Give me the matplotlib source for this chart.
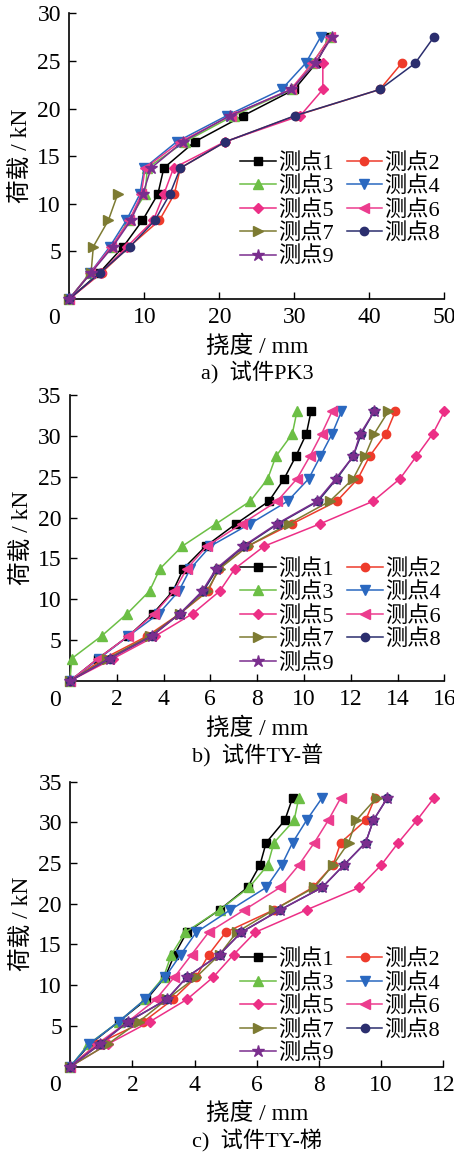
import numpy as np
import matplotlib
matplotlib.use("Agg")
import matplotlib.pyplot as plt

plt.rcParams['font.family'] = ['Liberation Serif', 'Noto Sans CJK SC']
plt.rcParams['axes.unicode_minus'] = False

# load steps (kN)
load = [0, 2.75, 5.5, 8.25, 11, 13.75, 16.5, 19.25, 22, 24.75, 27.5, 30.25, 33]

names = ['测点1', '测点2', '测点3', '测点4', '测点5', '测点6', '测点7', '测点8', '测点9']
colors = ['#000000', '#ee3b2b', '#6cbf45', '#2a68c0', '#ec2f86', '#ec3c8e', '#7d7b32', '#2b2e6e', '#7a2e8e']
markers = ['s', 'o', '^', 'v', 'D', '<', '>', 'o', '*']
msizes = [6, 6, 7, 7, 5, 7, 7, 6, 9]

# a) 试件PK3  deflection (mm)
a1 = [0, 4.0, 7.2, 9.75, 11.8, 12.6, 16.7, 23.2, 30.0, 32.9, 34.8]
a2 = [0, 4.3, 8.0, 12.0, 14.0, 14.8, 20.8, 30.2, 41.4, 44.3]
a3 = [0, 2.8, 5.7, 7.9, 10.1, 10.4, 15.4, 21.9, 29.7, 32.4, 34.8]
a4 = [0, 2.8, 5.4, 7.6, 9.4, 10.0, 14.3, 21.0, 28.3, 31.5, 33.5]
a5 = [0, 4.2, 7.7, 11.2, 12.6, 13.9, 20.7, 30.8, 33.8, 33.8]
a6 = [0, 2.8, 5.6, 8.0, 9.6, 10.1, 14.8, 21.5, 29.5, 32.4, 34.8]
a7 = [0, 2.9, 3.2, 5.2, 6.45]
a8 = [0, 4.1, 8.1, 11.4, 13.4, 14.8, 20.8, 30.1, 41.4, 46.1, 48.6]
a9 = [0, 2.9, 5.8, 8.2, 9.8, 10.9, 15.1, 21.4, 29.6, 32.8, 35.0]

# b) 试件TY-普
b1 = [0, 1.2, 2.5, 3.55, 4.4, 4.85, 5.8, 7.1, 8.5, 9.15, 9.65, 10.1, 10.3]
b2 = [0, 1.45, 3.3, 4.7, 5.9, 6.35, 7.6, 9.5, 11.4, 12.3, 12.8, 13.5, 13.9]
b3 = [0, 0.08, 1.35, 2.45, 3.4, 3.85, 4.8, 6.25, 7.7, 8.45, 8.8, 9.5, 9.7]
b4 = [0, 1.25, 2.5, 3.8, 4.65, 5.15, 6.0, 7.7, 9.3, 10.2, 10.7, 11.2, 11.6]
b5 = [0, 1.85, 3.65, 5.25, 6.4, 7.05, 8.3, 10.7, 12.95, 14.1, 14.8, 15.5, 16.0]
b6 = [0, 1.2, 2.5, 3.6, 4.45, 5.0, 5.85, 7.35, 8.85, 9.7, 10.25, 10.75, 11.2]
b7 = [0, 1.6, 3.4, 4.7, 5.85, 6.4, 7.6, 9.35, 11.1, 12.1, 12.6, 13.0, 13.6]
b8 = [0, 1.7, 3.5, 4.7, 5.7, 6.3, 7.45, 8.9, 10.6, 11.4, 12.1, 12.45, 13.0]
b9 = [0, 1.7, 3.5, 4.7, 5.65, 6.25, 7.4, 8.85, 10.55, 11.35, 12.1, 12.4, 13.0]

# c) 试件TY-梯
c1 = [0, 0.63, 1.55, 2.45, 3.05, 3.35, 3.75, 4.8, 5.7, 6.1, 6.3, 6.9, 7.15]
c2 = [0, 0.85, 2.35, 3.3, 4.05, 4.45, 5.0, 6.55, 7.8, 8.45, 8.7, 9.5, 9.8]
c3 = [0, 0.58, 1.55, 2.4, 3.0, 3.25, 3.7, 4.8, 5.75, 6.35, 6.55, 7.2, 7.35]
c4 = [0, 0.6, 1.55, 2.4, 3.05, 3.55, 4.05, 5.15, 6.3, 6.8, 7.15, 7.6, 8.1]
c5 = [0, 1.2, 2.55, 3.75, 4.6, 5.25, 5.95, 7.6, 9.3, 10.0, 10.55, 11.15, 11.7]
c6 = [0, 0.85, 1.85, 2.75, 3.35, 3.9, 4.45, 5.6, 6.75, 7.35, 7.85, 8.3, 8.7]
c7 = [0, 1.2, 2.2, 3.1, 4.05, 4.8, 5.35, 6.55, 7.85, 8.45, 8.95, 9.2, 9.85]
c8 = [0, 0.95, 1.85, 3.1, 3.75, 4.8, 5.5, 6.75, 8.1, 8.8, 9.5, 9.75, 10.2]
c9 = [0, 0.95, 1.85, 3.1, 3.75, 4.8, 5.5, 6.75, 8.1, 8.8, 9.5, 9.75, 10.2]

panels = [
    dict(data=[a1, a2, a3, a4, a5, a6, a7, a8, a9], xmax=50, xstep=10, ymax=30,
         rect=[0.1527, 0.7409, 0.826, 0.2476], leg_y=0.512, caption='a)  试件PK3'),
    dict(data=[b1, b2, b3, b4, b5, b6, b7, b8, b9], xmax=16, xstep=2, ymax=35,
         rect=[0.154, 0.4099, 0.825, 0.2478], leg_y=0.427, caption='b)  试件TY-普'),
    dict(data=[c1, c2, c3, c4, c5, c6, c7, c8, c9], xmax=12, xstep=2, ymax=35,
         rect=[0.1549, 0.0757, 0.8216, 0.247], leg_y=0.412, caption='c)  试件TY-梯'),
]

fig = plt.figure(figsize=(4.54, 11.54), dpi=100)

for p in panels:
    ax = fig.add_axes(p['rect'])
    handles = []
    for i, xs in enumerate(p['data']):
        ys = load[:len(xs)]
        h, = ax.plot(xs, ys, color=colors[i], marker=markers[i], ms=msizes[i],
                     lw=1.1, label=names[i], clip_on=False, zorder=3 + i)
        handles.append(h)
    ax.set_xlim(0, p['xmax'])
    ax.set_ylim(0, p['ymax'])
    xt = np.arange(0, p['xmax'] + 0.01, p['xstep'])
    ax.set_xticks(xt)
    ax.set_xticklabels([''] + ['%g' % v for v in xt[1:]])
    yt = np.arange(5, p['ymax'] + 0.01, 5)
    ax.set_yticks(yt)
    ax.tick_params(direction='in', length=5, width=1, labelsize=17, pad=6)
    for s in ['top', 'right']:
        ax.spines[s].set_visible(False)
    for s in ['left', 'bottom']:
        ax.spines[s].set_linewidth(1.2)
    # the "0" sits left of the origin like in the source figure
    ax.text(-0.04, -0.03, '0', transform=ax.transAxes, ha='center', va='top', fontsize=17)
    ax.set_ylabel('荷载 / kN', fontsize=17, labelpad=3)
    ax.set_xlabel('挠度 / mm', fontsize=17, labelpad=5)
    ax.text(0.5, -0.22, p['caption'], transform=ax.transAxes, ha='center', va='top', fontsize=16)
    order = [0, 2, 4, 6, 8, 1, 3, 5, 7]
    ax.legend([handles[k] for k in order], [names[k] for k in order], ncol=2,
              loc='upper left', bbox_to_anchor=(0.455, p['leg_y']), frameon=False,
              fontsize=16, handlelength=1.6, handletextpad=0.1, columnspacing=0.6,
              labelspacing=0.12, borderpad=0, borderaxespad=0)

fig.savefig('out.png', dpi=100)
